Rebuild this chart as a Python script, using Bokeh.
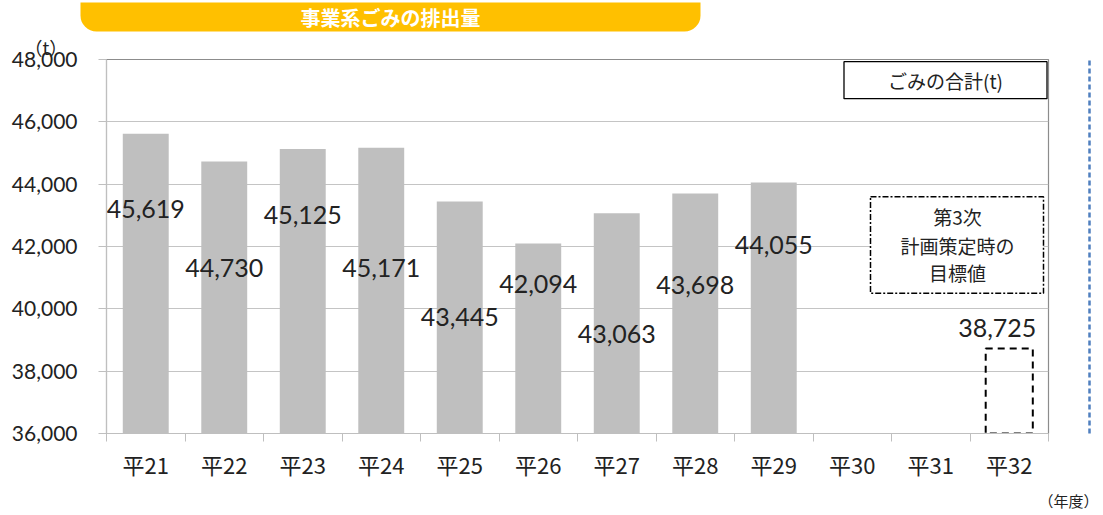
from bokeh.plotting import figure
from bokeh.models import (Range1d, LinearAxis, FixedTicker, Title,
                          NumeralTickFormatter, Label, BoxAnnotation, ColumnDataSource)
from bokeh.core.properties import value
from bokeh.embed import file_html
from bokeh.resources import INLINE

# ---- data ----
categories = ["平21", "平22", "平23", "平24", "平25", "平26", "平27", "平28", "平29", "平30", "平31", "平32"]
actual_years = ["平21", "平22", "平23", "平24", "平25", "平26", "平27", "平28", "平29"]
actual_values = [45619, 44730, 45125, 45171, 43445, 42094, 43063, 43698, 44055]
target_year = ["平32"]
target_value = [38725]
y_ticks = [36000, 38000, 40000, 42000, 44000, 46000, 48000]
# vertical placement of the data labels (in tonnes, as drawn in the source chart)
label_y = [43200, 41300, 43000, 41300, 39750, 40800, 39200, 40750, 42050]
target_label_y = [39400]

JP = "Noto Sans CJK JP"
NUM = "Lato"

# category slot centres on a numeric axis
center = {c: i + 0.5 for i, c in enumerate(categories)}

W, H = 1103, 515
FL, FT, FR, FB = 106, 59, 1048, 438          # plot frame edges in page pixels
Y0, Y1 = 36000, 48000
NX = len(categories)


def ax(px):   # page x pixel -> data x (for annotations only)
    return (px - FL) * NX / (FR - FL)


def ay(py):   # page y pixel -> data y (for annotations only)
    return Y1 - (py - FT) * (Y1 - Y0) / (FB - FT)


p = figure(x_range=Range1d(0, NX), y_range=Range1d(Y0, Y1), title="",
           width=W, height=H, output_backend="svg", toolbar_location=None,
           x_axis_location=None, min_border_left=FL, min_border_right=W - FR,
           min_border_top=FT, min_border_bottom=H - FB)

p.background_fill_color = "white"
p.border_fill_color = "white"
p.outline_line_color = "#8c8c8c"
p.outline_line_width = 1.2

# y axis
ya = p.yaxis[0]
ya.ticker = FixedTicker(ticks=y_ticks)
ya.formatter = NumeralTickFormatter(format="0,0")
ya.major_tick_out = 8
ya.major_tick_in = 0
ya.minor_tick_line_color = None
ya.axis_line_color = "#bfbfbf"
ya.major_tick_line_color = "#bfbfbf"
ya.major_label_standoff = 21
ya.major_label_text_font = NUM
ya.major_label_text_font_size = "21px"
ya.major_label_text_color = "#222222"

p.xgrid.visible = False
p.ygrid.grid_line_color = "#c4c4c4"
p.ygrid.ticker = FixedTicker(ticks=y_ticks)

# x axis: tick marks at category boundaries, labels at slot centres
edges = list(range(NX + 1))
edge_axis = LinearAxis(ticker=FixedTicker(ticks=edges),
                       major_label_overrides={e: "" for e in edges},
                       major_tick_out=8, major_tick_in=0, minor_tick_line_color=None,
                       axis_line_color="#bfbfbf", major_tick_line_color="#bfbfbf",
                       major_label_text_font_size="1px", major_label_standoff=0)
p.add_layout(edge_axis, "below")
cat_axis = LinearAxis(ticker=FixedTicker(ticks=[center[c] for c in categories]),
                      major_label_overrides={center[c]: c for c in categories},
                      major_tick_line_color=None, minor_tick_line_color=None, axis_line_color=None,
                      major_label_text_font=JP, major_label_text_font_size="22px",
                      major_label_text_color="#222222", major_label_standoff=0)
p.add_layout(cat_axis, "below")

# unit label of the x axis, bottom right
p.add_layout(Title(text="（年度）", align="right", offset=-50, standoff=10,
                   text_font=JP, text_font_size="15px", text_font_style="normal",
                   text_color="#222222"), "below")

# unit label of the y axis and the banner above the chart
p.add_layout(Title(text="（t）", align="left", offset=-82, standoff=0,
                   text_font=JP, text_font_size="18px", text_font_style="normal",
                   text_color="#222222"), "above")
SP = "\u3000" * 11
p.add_layout(Title(text=SP + "事業系ごみの排出量" + SP, align="left", offset=80 - FL, standoff=0,
                   text_font=JP, text_font_size="20px", text_font_style="bold",
                   text_color="white", background_fill_color="#ffc000",
                   padding=(0, 0), border_radius=(0, 0, 16, 16)), "above")

# right side: spacer + blue dashed frame line
p.add_layout(LinearAxis(ticker=FixedTicker(ticks=[42000]), major_label_overrides={42000: ""},
                        axis_line_color=None, major_tick_line_color=None,
                        minor_tick_line_color=None, major_tick_out=41, major_tick_in=0,
                        major_label_standoff=0, major_label_text_font_size="1px"), "right")
p.add_layout(LinearAxis(ticker=FixedTicker(ticks=[]), axis_line_color="#4f7fbf",
                        axis_line_width=2.5, axis_line_dash="5 3",
                        major_tick_line_color=None, minor_tick_line_color=None,
                        major_tick_out=0, major_tick_in=0, major_label_standoff=0,
                        major_label_text_font_size="1px"), "right")

# bars
src = ColumnDataSource(dict(x=[center[c] for c in actual_years], top=actual_values,
                            ly=label_y, txt=[f"{v:,}" for v in actual_values]))
p.vbar(x="x", top="top", bottom=Y0, width=0.585, source=src,
       fill_color="#bfbfbf", line_color=None)
p.text(x="x", y="ly", text="txt", source=src, text_align="center", text_baseline="middle",
       text_font=value(NUM), text_font_size="25px", text_color="#222222")

tsrc = ColumnDataSource(dict(x=[center[c] for c in target_year], top=target_value, ly=target_label_y,
                             txt=[f"{v:,}" for v in target_value]))
p.vbar(x="x", top="top", bottom=Y0, width=0.6, source=tsrc, fill_color=None,
       line_color="black", line_width=2, line_dash="7 5")
p.text(x="x", y="ly", text="txt", source=tsrc, text_align="center", text_baseline="middle",
       text_font=value(NUM), text_font_size="25px", text_color="#222222", x_offset=-12)

# dash-dot note box
p.add_layout(BoxAnnotation(left=ax(870), right=ax(1043), top=ay(198), bottom=ay(296),
                           fill_color="white", fill_alpha=1, line_color="black", line_alpha=1,
                           line_width=1.5, line_dash="6 2 2 2"))
for txt, py in zip(["第3次", "計画策定時の", "目標値"], [218, 247, 275]):
    p.add_layout(Label(x=ax(957), y=ay(py), text=txt, text_align="center", text_baseline="middle",
                       text_font=JP, text_font_size="19px", text_color="#222222"))

# legend-like box
p.add_layout(Label(x=ax(945), y=ay(80), text="ごみの合計(t)",
                   text_align="center", text_baseline="middle", text_font=JP,
                   text_font_size="19px", text_color="#222222",
                   background_fill_color="white", border_line_color="black",
                   border_line_width=1.3, padding=(44, 5)))

open("out.html", "w").write(file_html(p, INLINE))
